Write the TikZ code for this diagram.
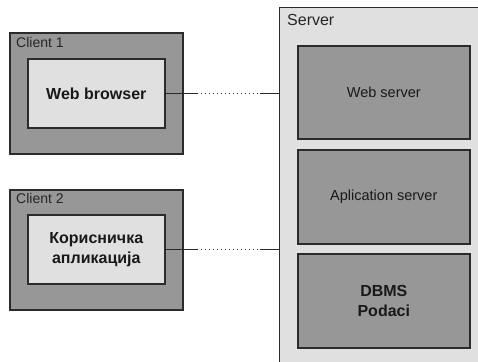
\documentclass[tikz,border=0pt]{standalone}
\usepackage{fontspec}
\setmainfont{Liberation Sans}
\definecolor{darkfill}{HTML}{979797}
\definecolor{lightfill}{HTML}{E0E0E0}
\definecolor{edge}{HTML}{2B2B2B}
\begin{document}
\begin{tikzpicture}[x=1pt,y=-1pt,
  outerbox/.style={draw=edge,line width=1.6pt,fill=darkfill,anchor=north west,inner sep=0pt},
  innerbox/.style={draw=edge,line width=1.6pt,fill=lightfill,anchor=north west,inner sep=0pt,align=center,
     font=\fontsize{16}{20}\selectfont\bfseries,text=black!90},
  srvbox/.style={draw=edge,line width=1.6pt,fill=darkfill,anchor=north west,inner sep=0pt,align=center,
     minimum width=172pt,font=\fontsize{14.5}{19}\selectfont,text=black!90},
  lbl/.style={anchor=base west,inner sep=0pt,font=\fontsize{14}{16}\selectfont,text=black!85},
  conn/.style={draw=edge,line width=1.2pt},
  dots/.style={draw=edge,line width=1pt,dash pattern=on 1.2pt off 2.8pt}]
\useasboundingbox (0,0) rectangle (478,361);
\clip (0,0) rectangle (478,361);
\fill[white] (0,0) rectangle (478,361);
% server
\node[draw=edge,line width=1.4pt,fill=lightfill,anchor=north west,inner sep=0pt,minimum width=215pt,minimum height=375pt] (server) at (279,7) {};
\node[lbl,font=\fontsize{16}{18}\selectfont] (srvlabel) at (287,26) {Server};
\node[srvbox,minimum height=93pt] (websrv) at (297,45) {Web server};
\node[srvbox,minimum height=94pt] (appsrv) at (297,149) {Aplication server};
\node[srvbox,minimum height=94pt,font=\fontsize{16}{20}\selectfont\bfseries] (dbms) at (297,253) {DBMS\\Podaci};
% client 1
\node[outerbox,minimum width=173pt,minimum height=121pt] (client1) at (9,32) {};
\node[lbl] (c1label) at (16,48) {Client 1};
\node[innerbox,minimum width=137pt,minimum height=69pt] (browser) at (27,58) {Web browser};
% client 2
\node[outerbox,minimum width=173pt,minimum height=120pt] (client2) at (9,189) {};
\node[lbl] (c2label) at (16,203) {Client 2};
\node[innerbox,minimum width=137pt,minimum height=69pt] (app) at (27,214) {Корисничка\\апликација};
% connectors
\coordinate (a1) at (197,0 |- browser.east);
\coordinate (a2) at (260,0 |- browser.east);
\coordinate (a3) at (browser.east -| server.west);
\draw[conn] (browser.east) -- (a1);
\draw[dots] (a1) -- (a2);
\draw[conn] (a2) -- (a3);
\coordinate (b1) at (197,0 |- app.east);
\coordinate (b2) at (260,0 |- app.east);
\coordinate (b3) at (app.east -| server.west);
\draw[conn] (app.east) -- (b1);
\draw[dots] (b1) -- (b2);
\draw[conn] (b2) -- (b3);
\end{tikzpicture}
\end{document}
